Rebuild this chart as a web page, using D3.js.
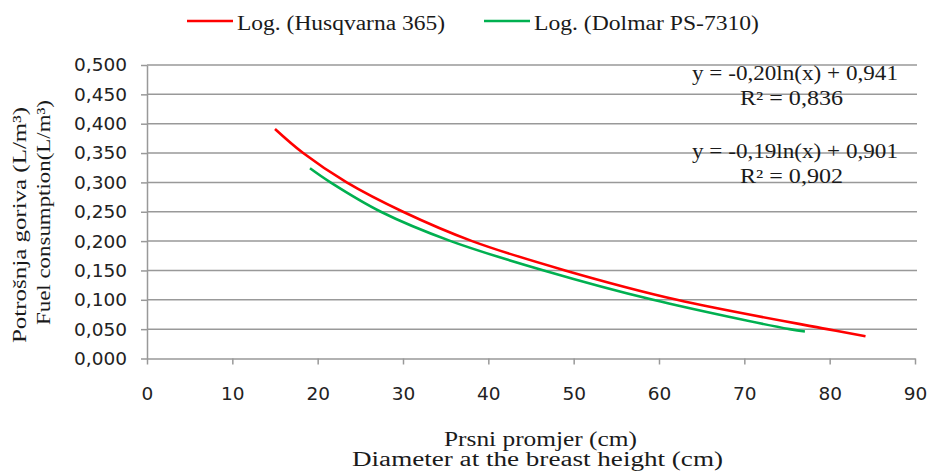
<!DOCTYPE html>
<html>
<head>
<meta charset="utf-8">
<script src="https://cdn.jsdelivr.net/npm/d3@7"></script>
<style>
  body { margin: 0; background: #fff; }
  svg { display: block; }
  .serif { font-family: "Liberation Serif", "DejaVu Serif", "Times New Roman", serif; }
  .sans { font-family: "DejaVu Sans", Verdana, sans-serif; }
</style>
</head>
<body>
<div id="chart"></div>
<script>
// values
const xTicks = [0, 10, 20, 30, 40, 50, 60, 70, 80, 90];
const yTicks = [0, 0.05, 0.1, 0.15, 0.2, 0.25, 0.3, 0.35, 0.4, 0.45, 0.5];

const husqvarnaX = [15.0, 18.3, 23.4, 30.0, 38.1, 49.0, 62.1, 79.7, 84.2];
const husqvarnaY = [0.391, 0.350, 0.300, 0.250, 0.200, 0.150, 0.100, 0.050, 0.038];

const dolmarX = [19.1, 21.5, 27.4, 35.6, 46.5, 59.3, 75.3, 77.1];
const dolmarY = [0.324, 0.300, 0.250, 0.200, 0.150, 0.100, 0.050, 0.046];

const seriesNames = ["Log. (Husqvarna 365)", "Log. (Dolmar PS-7310)"];
const seriesColors = ["#ff0000", "#00b050"];
const equations = ["y = -0,20ln(x) + 0,941", "y = -0,19ln(x) + 0,901"];
const rSquared = ["R² = 0,836", "R² = 0,902"];

const W = 930, H = 472;
const svg = d3.select('#chart').append('svg')
  .attr('width', W)
  .attr('height', H);

const x = d3.scaleLinear().domain([0, 90]).range([147, 915]);
const y = d3.scaleLinear().domain([0, 0.5]).range([358.5, 65]);

const fmt = d3.formatLocale({ decimal: ",", thousands: ".", grouping: [3], currency: ["", ""] }).format(".3f");

const gridColor = "#999";

// horizontal gridlines
svg.append('g')
  .selectAll('line')
  .data(yTicks.filter(d => d > 0))
  .enter().append('line')
  .attr('x1', x(0))
  .attr('x2', x(90) + 2)
  .attr('y1', d => y(d))
  .attr('y2', d => y(d))
  .attr('stroke', gridColor)
  .attr('stroke-width', 1.5);

// y axis
const yAxis = svg.append('g')
  .attr('transform', `translate(${x(0)},0)`)
  .call(d3.axisLeft(y).tickValues(yTicks).tickFormat(fmt).tickSize(6).tickSizeOuter(0).tickPadding(14));

// x axis
const xAxis = svg.append('g')
  .attr('transform', `translate(0,${y(0)})`)
  .call(d3.axisBottom(x).tickValues(xTicks).tickSize(6).tickSizeOuter(0).tickPadding(22));

[yAxis, xAxis].forEach(g => {
  g.attr('font-family', null).attr('font-size', null);
  g.select('.domain').attr('stroke', gridColor).attr('stroke-width', 1.5);
  g.selectAll('.tick line').attr('stroke', gridColor).attr('stroke-width', 1.5);
  g.selectAll('.tick text')
    .attr('class', 'sans')
    .attr('fill', '#222')
    .style('font-size', '18.5px');
});

// trend curves
const line = d3.line()
  .x(d => x(d[0]))
  .y(d => y(d[1]))
  .curve(d3.curveCatmullRom.alpha(0.5));

const series = [
  d3.zip(husqvarnaX, husqvarnaY),
  d3.zip(dolmarX, dolmarY)
];

svg.append('g')
  .selectAll('path')
  .data(series)
  .enter().append('path')
  .attr('d', line)
  .attr('fill', 'none')
  .attr('stroke', (d, i) => seriesColors[i])
  .attr('stroke-width', 2.6);

// text helper: stretch to measured width
function label(txt, px, py, size, len, opts = {}) {
  const t = svg.append('text')
    .attr('class', 'serif')
    .attr('x', px)
    .attr('y', py)
    .attr('fill', '#1a1a1a')
    .style('font-size', size + 'px')
    .text(txt);
  if (len) t.attr('textLength', len).attr('lengthAdjust', 'spacingAndGlyphs');
  if (opts.rotate) t.attr('transform', `rotate(-90,${px},${py})`);
  return t;
}

// legend
const legendX = [187, 484];
const legendLen = [208, 225];
seriesNames.forEach((name, i) => {
  svg.append('line')
    .attr('x1', legendX[i]).attr('x2', legendX[i] + 46)
    .attr('y1', 21).attr('y2', 21)
    .attr('stroke', seriesColors[i])
    .attr('stroke-width', 2.6);
  label(name, legendX[i] + 50, 30, 20, legendLen[i]);
});

// equations
const eqY = [80, 158];
equations.forEach((eq, i) => {
  label(eq, 692, eqY[i], 20, 206);
  label(rSquared[i], 740, eqY[i] + 25, 20, 103);
});

// axis titles
label("Prsni promjer (cm)", 444, 446, 20, 193);
label("Diameter at the breast height (cm)", 352, 466, 20, 371);
label("Potrošnja goriva (L/m³)", 26, 343, 19, 236, { rotate: true });
label("Fuel consumption(L/m³)", 50, 325, 19, 225, { rotate: true });
</script>
</body>
</html>
